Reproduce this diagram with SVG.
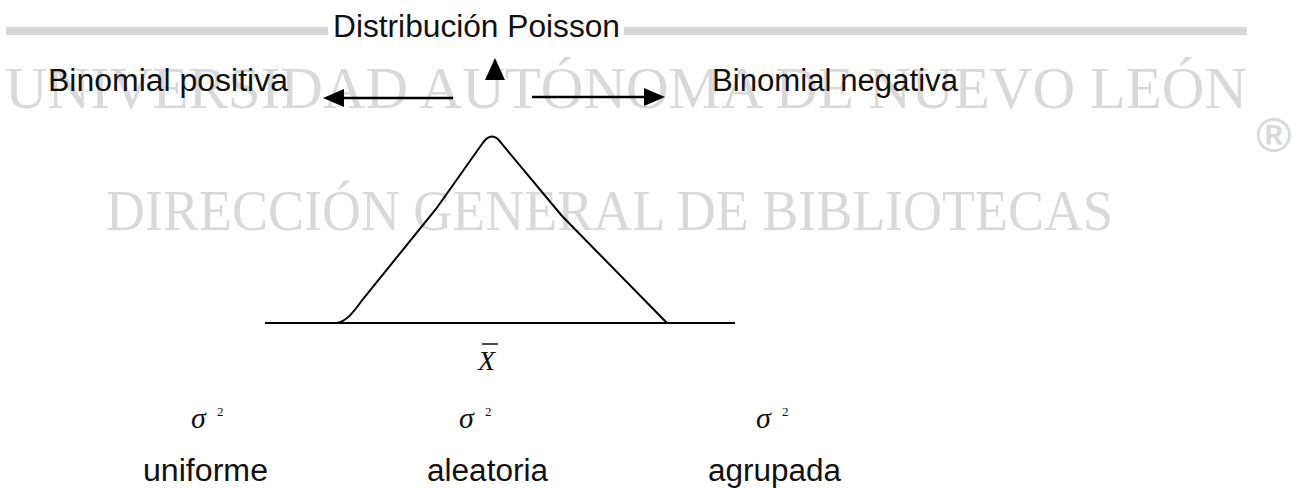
<svg xmlns="http://www.w3.org/2000/svg" width="1292" height="489" viewBox="0 0 1292 489">
  <style>
    .wm { font-family: "Liberation Serif", "Times New Roman", serif; fill: #d9d9d9; }
    .lbl { font-family: "Liberation Sans", Arial, sans-serif; font-size: 31px; fill: #111; }
    .math { font-family: "Liberation Serif", "Times New Roman", serif; font-style: italic; fill: #111; }
    .sup { font-family: "Liberation Serif", "Times New Roman", serif; font-size: 13px; fill: #111; }
    .conn { stroke: #000; stroke-width: 2.5; fill: none; }
    .head { fill: #000; }
  </style>
  <rect width="1292" height="489" fill="#ffffff"/>

  <!-- watermark -->
  <g id="watermark">
    <rect x="6" y="27" width="1241" height="8" fill="#d6d6d6"/>
    <text class="wm" x="5" y="108" font-size="59" textLength="1242" lengthAdjust="spacingAndGlyphs">UNIVERSIDAD AUTÓNOMA DE NUEVO LEÓN</text>
    <text class="wm" x="106" y="230" font-size="58" textLength="1007" lengthAdjust="spacingAndGlyphs">DIRECCIÓN GENERAL DE BIBLIOTECAS</text>
    <text x="1256" y="152" font-family="Liberation Sans, Arial, sans-serif" font-size="48" font-weight="bold" fill="#d9d9d9">®</text>
  </g>

  <g id="poisson">
    <rect x="328" y="22" width="296" height="18" fill="#ffffff"/>
    <text class="lbl" x="333" y="37" textLength="287" lengthAdjust="spacingAndGlyphs">Distribución Poisson</text>
  </g>
  <g id="binomial-positiva">
    <text class="lbl" x="48" y="91" textLength="240" lengthAdjust="spacingAndGlyphs">Binomial positiva</text>
  </g>
  <g id="binomial-negativa">
    <text class="lbl" x="712" y="91" textLength="246" lengthAdjust="spacingAndGlyphs">Binomial negativa</text>
  </g>

  <g id="connectors">
    <polygon class="head" points="495,58 485,80 505,80"/>
    <line class="conn" x1="453" y1="98" x2="340" y2="98"/>
    <polygon class="head" points="323,98 344,89 344,107"/>
    <line class="conn" x1="532" y1="97" x2="648" y2="97"/>
    <polygon class="head" points="665,97 644,88 644,106"/>
  </g>

  <g id="curve">
    <line x1="265" y1="323" x2="735" y2="323" stroke="#000" stroke-width="2"/>
    <path d="M 336 323 C 346 322 353 313 363 299 L 436 209 L 482 144 Q 492 129 502 144 L 562 216 L 667 323" fill="none" stroke="#000" stroke-width="2"/>
  </g>

  <g id="mean">
    <text class="math" x="478" y="370" font-size="28">X</text>
    <line x1="482" y1="344" x2="498" y2="344" stroke="#111" stroke-width="1.5"/>
  </g>

  <g id="uniforme">
    <text class="math" x="191" y="428" font-size="30">σ</text>
    <text class="sup" x="217" y="416">2</text>
    <text class="lbl" x="143" y="481" textLength="125" lengthAdjust="spacingAndGlyphs">uniforme</text>
  </g>
  <g id="aleatoria">
    <text class="math" x="459" y="428" font-size="30">σ</text>
    <text class="sup" x="485" y="416">2</text>
    <text class="lbl" x="427" y="481" textLength="121" lengthAdjust="spacingAndGlyphs">aleatoria</text>
  </g>
  <g id="agrupada">
    <text class="math" x="756" y="428" font-size="30">σ</text>
    <text class="sup" x="782" y="416">2</text>
    <text class="lbl" x="708" y="481" textLength="133" lengthAdjust="spacingAndGlyphs">agrupada</text>
  </g>
</svg>
